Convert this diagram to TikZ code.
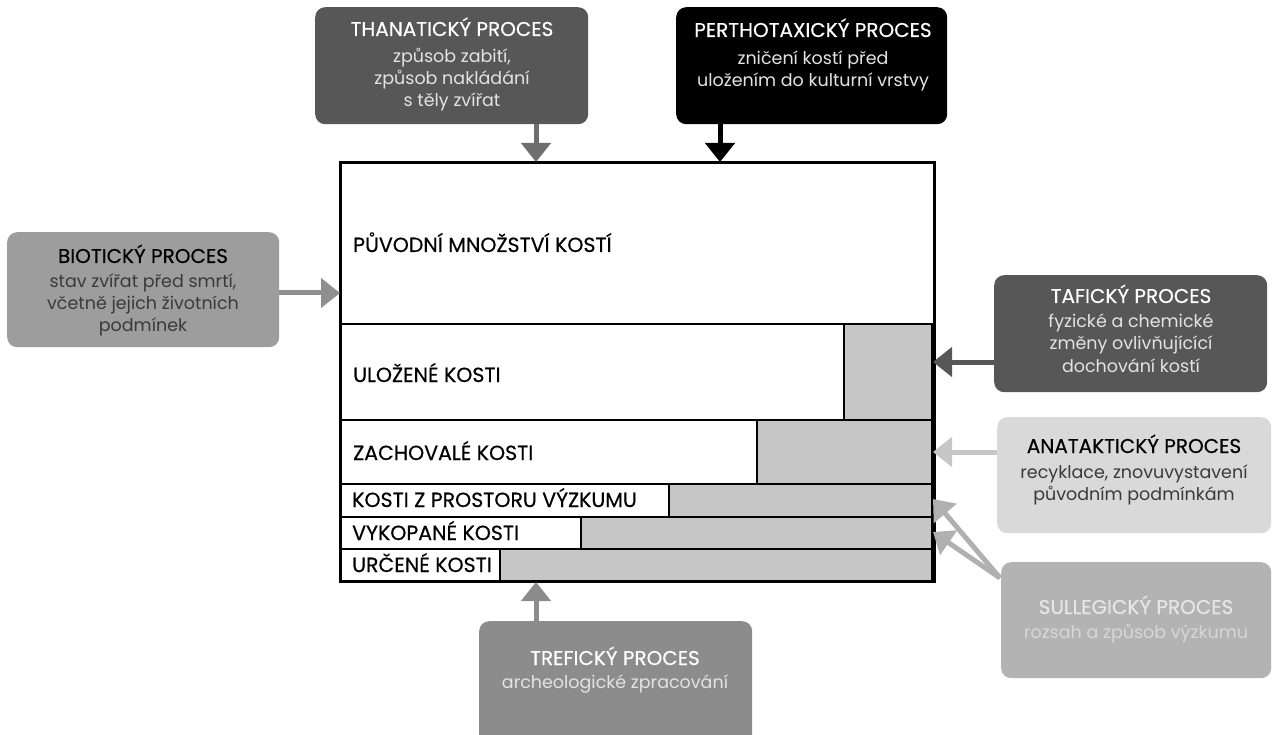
\documentclass[tikz,border=0pt]{standalone}
\usepackage{fontspec}
\setmainfont{Poppins}
\newfontfamily\medfont{Poppins}[FakeBold=0.4]
\usetikzlibrary{arrows.meta,calc}
\definecolor{cThan}{HTML}{575757}
\definecolor{cThanA}{HTML}{6E6E6E}
\definecolor{cBio}{HTML}{9D9D9D}
\definecolor{cBioA}{HTML}{8F8F8F}
\definecolor{cAna}{HTML}{D9D9D9}
\definecolor{cAnaA}{HTML}{C6C6C6}
\definecolor{cSul}{HTML}{B3B3B3}
\definecolor{cSulA}{HTML}{B0B0B0}
\definecolor{cTre}{HTML}{8C8C8C}
\definecolor{cBar}{HTML}{C6C6C6}
\definecolor{cDarkTxt}{HTML}{3A3A3A}
\definecolor{cLightTxt}{HTML}{E3E3E3}
\begin{document}
\begin{tikzpicture}[x=1pt,y=-1pt,
  procbox/.style={rounded corners=10pt, inner sep=0pt, anchor=north west},
  ttl/.style={anchor=base, inner sep=0pt, font=\medfont\fontsize{20}{22}\selectfont},
  sub/.style={anchor=base, inner sep=0pt, align=center, font=\fontsize{17.5}{22}\selectfont},
  rowbox/.style={draw=black, line width=2pt, fill=white, inner sep=0pt, anchor=north west},
  barbox/.style={draw=black, line width=2pt, fill=cBar, inner sep=0pt, anchor=north east},
  lab/.style={anchor=base west, inner sep=0pt, font=\medfont\fontsize{20.5}{22}\selectfont},
  arr/.style={line width=5pt, -{Triangle[width=29pt,length=19pt]}}
]
\useasboundingbox (0,0) rectangle (1272,735);

% process boxes (subtitle anchor = baseline of its last line)
\node[procbox, fill=cThan, minimum width=273, minimum height=117] (than) at (315,7) {};
\node[ttl, text=white] at (452,36) {THANATICKÝ PROCES};
\node[sub, text=cLightTxt] at (452,107) {způsob zabití,\\způsob nakládání\\s těly zvířat};

\node[procbox, fill=black, minimum width=271, minimum height=117] (perth) at (676,7) {};
\node[ttl, text=white] at (813,37) {PERTHOTAXICKÝ PROCES};
\node[sub, text=cLightTxt] at (813,87) {zničení kostí před\\uložením do kulturní vrstvy};

\node[procbox, fill=cBio, minimum width=272, minimum height=115] (bio) at (7,232) {};
\node[ttl, text=black] at (143,263) {BIOTICKÝ PROCES};
\node[sub, text=cDarkTxt] at (143,332) {stav zvířat před smrtí,\\včetně jejich životních\\podmínek};

\node[procbox, fill=cThan, minimum width=273, minimum height=117] (taf) at (994,275) {};
\node[ttl, text=white] at (1131,303) {TAFICKÝ PROCES};
\node[sub, text=cLightTxt] at (1131,372) {fyzické a chemické\\změny ovlivňujícící\\dochování kostí};

\node[procbox, fill=cAna, minimum width=274, minimum height=116] (ana) at (997,417) {};
\node[ttl, text=black] at (1134,453) {ANATAKTICKÝ PROCES};
\node[sub, text=cDarkTxt] at (1134,500) {recyklace, znovuvystavení\\původním podmínkám};

\node[procbox, fill=cSul, minimum width=270, minimum height=116] (sul) at (1001,562) {};
\node[ttl, text=cLightTxt!90!white] at (1136,614) {SULLEGICKÝ PROCES};
\node[sub, text=cLightTxt!75!cSul] at (1136,638) {rozsah a způsob výzkumu};

\node[procbox, fill=cTre, minimum width=273, minimum height=125] (tre) at (479,621) {};
\node[ttl, text=white] at (615,665) {TREFICKÝ PROCES};
\node[sub, text=cLightTxt] at (615,688) {archeologické zpracování};

% main stacked box
\node[rowbox, minimum width=593, minimum height=161] (r0) at (340,162) {};
\node[rowbox, minimum width=593, minimum height=96] (r1) at (340,323) {};
\node[rowbox, minimum width=593, minimum height=64] (r2) at (340,419) {};
\node[rowbox, minimum width=593, minimum height=33] (r3) at (340,483) {};
\node[rowbox, minimum width=593, minimum height=32] (r4) at (340,516) {};
\node[rowbox, minimum width=593, minimum height=32] (r5) at (340,548) {};

\node[barbox, minimum width=88, minimum height=96] (b1) at (933,323) {};
\node[barbox, minimum width=175, minimum height=64] (b2) at (933,419) {};
\node[barbox, minimum width=263, minimum height=33] (b3) at (933,483) {};
\node[barbox, minimum width=351, minimum height=32] (b4) at (933,516) {};
\node[barbox, minimum width=432, minimum height=32] (b5) at (933,548) {};

\draw[line width=2.5pt] (r0.north west) rectangle (r5.south east);

\node[lab] at (353,252) {PŮVODNÍ MNOŽSTVÍ KOSTÍ};
\node[lab] at (353,382) {ULOŽENÉ KOSTI};
\node[lab] at (353,460) {ZACHOVALÉ KOSTI};
\node[lab] at (352,507) {KOSTI Z PROSTORU VÝZKUMU};
\node[lab] at (352,540) {VYKOPANÉ KOSTI};
\node[lab] at (352,572) {URČENÉ KOSTI};

% connector coordinates
\coordinate (xThan) at (536,0);
\coordinate (xPerth) at (720,0);
\coordinate (yBio) at (0,293);
\coordinate (yTaf) at (0,362);
\coordinate (yAna) at (0,452);
\coordinate (sulStart) at (1000,578);
\coordinate (sulTipA) at (933,499);
\coordinate (sulTipB) at (933,532);
\coordinate (xTre) at (536,0);

\draw[arr, cThanA] (than.south -| xThan) -- (r0.north -| xThan);
\draw[arr, black] (perth.south -| xPerth) -- (r0.north -| xPerth);
\draw[arr, cBioA] (bio.east |- yBio) -- (r0.west |- yBio);
\draw[arr, cThan] (taf.west |- yTaf) -- (b1.east |- yTaf);
\draw[arr, cAnaA] (ana.west |- yAna) -- (b2.east |- yAna);
\draw[arr, cSulA] (sulStart) -- (sulTipA);
\draw[arr, cSulA] (sulStart) -- (sulTipB);
\draw[arr, cTre] (tre.north -| xTre) -- (r5.south -| xTre);
\end{tikzpicture}
\end{document}
